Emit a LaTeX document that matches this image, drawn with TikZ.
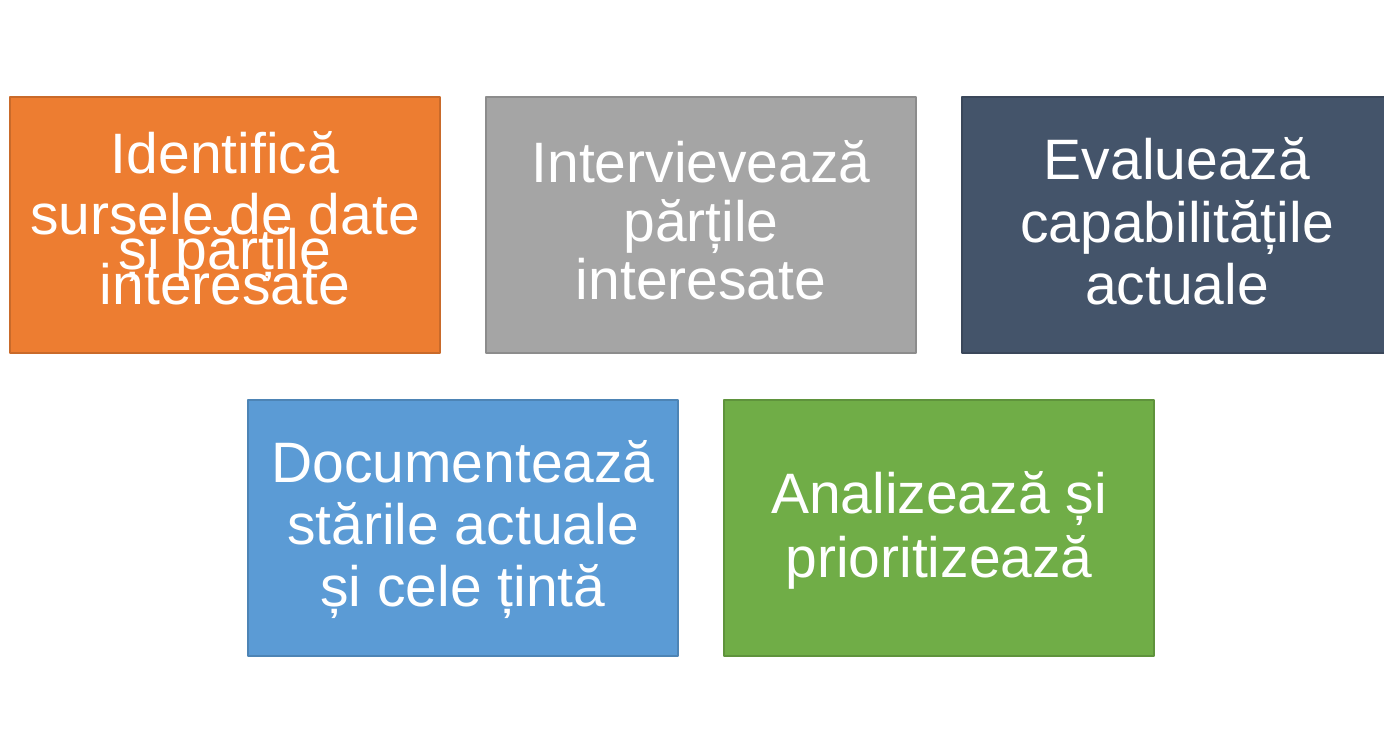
\documentclass[tikz,border=0pt]{standalone}
\usepackage{fontspec}
\setmainfont{Liberation Sans}
\definecolor{portocaliu}{RGB}{237,125,49}
\definecolor{gri}{RGB}{165,165,165}
\definecolor{bleumarin}{RGB}{68,84,106}
\definecolor{albastru}{RGB}{91,155,213}
\definecolor{verde}{RGB}{112,173,71}
\newcommand\boxfont[1]{\lineskiplimit=-\maxdimen\fontsize{28.5}{#1}\selectfont}
\begin{document}
\begin{tikzpicture}[x=0.5pt, y=-0.5pt, line join=round,
	stepbox/.style={rectangle, minimum width=215pt, minimum height=128pt, inner sep=0pt, line width=0.6pt},
	steptext/.style={text=white, align=center, inner sep=0pt}]
	\useasboundingbox (0,0) rectangle (1384,752);
	\clip (0,0) rectangle (1384,752);
	% randul de sus
	\node[stepbox, fill=portocaliu, draw=portocaliu!85!black] (identifica) at (225,225) {};
	\node[stepbox, fill=gri, draw=gri!85!black] (intervieveaza) at (701,225) {};
	\node[stepbox, fill=bleumarin, draw=bleumarin!85!black] (evalueaza) at (1177,225) {};
	% randul de jos
	\node[stepbox, fill=albastru, draw=albastru!85!black] (documenteaza) at (463,528) {};
	\node[stepbox, fill=verde, draw=verde!85!black] (analizeaza) at (939,528) {};
	% textele
	\node[steptext, font=\boxfont{17.5}] (identifica-text) at (225,218.5) {Identifică\\[13pt]sursele de date\\și părțile\\interesate};
	\node[steptext, font=\boxfont{29.25}] (intervieveaza-text) at (701,220.5) {Intervievează\\părțile\\interesate};
	\node[steptext, font=\boxfont{31.25}] (evalueaza-text) at (1177,221.5) {Evaluează\\capabilitățile\\actuale};
	\node[steptext, font=\boxfont{31}] (documenteaza-text) at (463,530) {Documentează\\stările actuale\\și cele țintă};
	\node[steptext, font=\boxfont{32}] (analizeaza-text) at (939,530) {Analizează și\\prioritizează};
\end{tikzpicture}
\end{document}
